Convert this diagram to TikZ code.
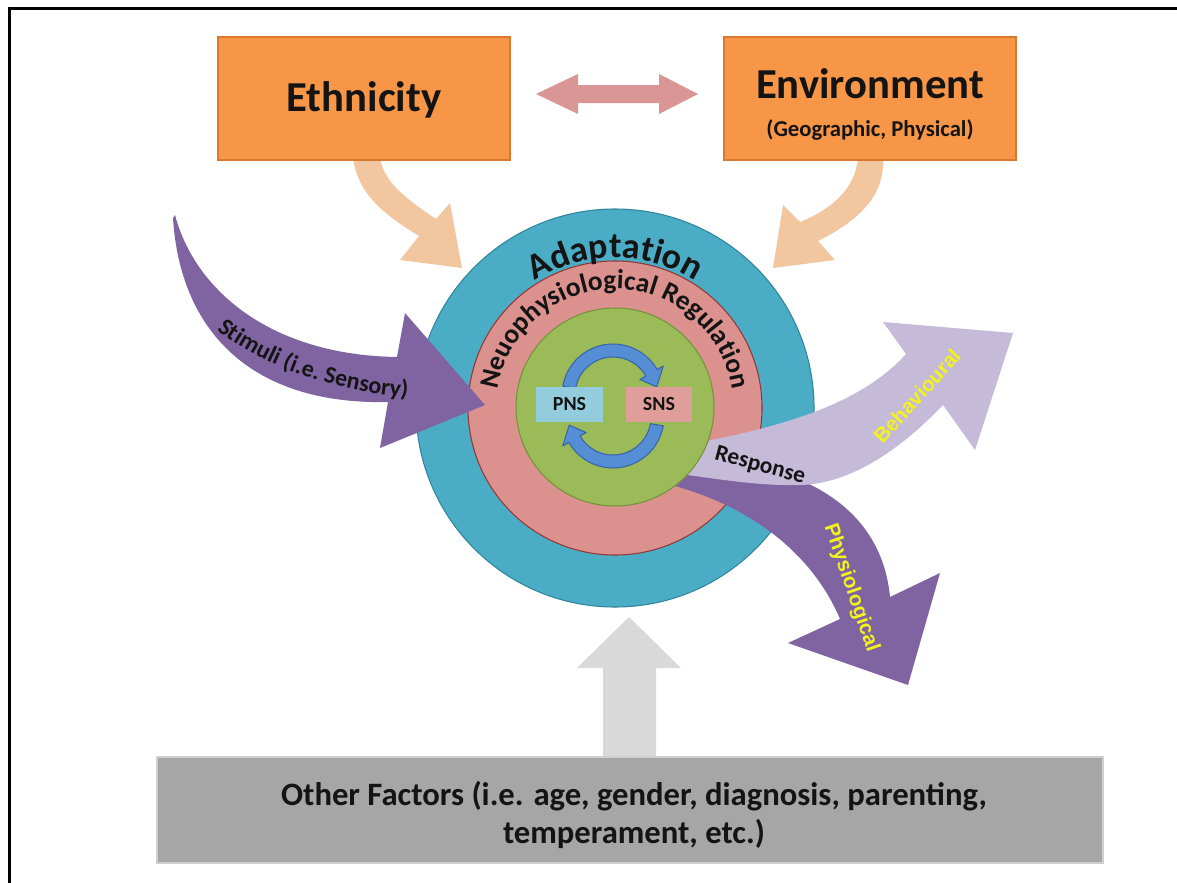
\documentclass[tikz,border=0pt]{standalone}
\usepackage{fontspec}
\setmainfont{Carlito}
\newfontfamily\labelsans{Liberation Sans}
\usetikzlibrary{calc,decorations.text}

\definecolor{boxfill}{HTML}{F79646}
\definecolor{boxedge}{HTML}{D9782F}
\definecolor{linkpink}{HTML}{D99694}
\definecolor{tanarrow}{HTML}{F2C7A0}
\definecolor{tealring}{HTML}{4BACC6}
\definecolor{tealedge}{HTML}{31859C}
\definecolor{pinkring}{HTML}{DB918E}
\definecolor{pinkedge}{HTML}{953735}
\definecolor{greencore}{HTML}{9BBB59}
\definecolor{greenedge}{HTML}{76923C}
\definecolor{pnsfill}{HTML}{93CDDD}
\definecolor{snsfill}{HTML}{E09E9B}
\definecolor{cycfill}{HTML}{558ED5}
\definecolor{cycedge}{HTML}{3A64A8}
\definecolor{stimpurple}{HTML}{8064A2}
\definecolor{lightpurple}{HTML}{C5BAD8}
\definecolor{softgray}{HTML}{D9D9D9}
\definecolor{factorgray}{HTML}{A6A6A6}
\definecolor{factoredge}{HTML}{CFCFCF}
\definecolor{labelyellow}{HTML}{F2F21C}
\definecolor{ink}{HTML}{141414}

\newcommand\fsz[1]{\fontsize{#1}{#1}\selectfont\bfseries}
\newcommand\adaptfont{\fontsize{27}{27}\selectfont\bfseries\color{ink}}
\newcommand\neurofont{\fontsize{20.5}{20.5}\selectfont\bfseries\color{ink}}
\newcommand\stimfont{\fontsize{18}{18}\selectfont\bfseries\color{ink}}

\tikzset{
  factorbox/.style={rectangle, fill=boxfill, draw=boxedge, line width=1pt, inner sep=0pt},
  plain/.style={inner sep=0pt, text=ink},
  ring/.style={circle, inner sep=0pt, line width=0.8pt},
  nsbox/.style={rectangle, inner sep=0pt, minimum height=26.25pt, text=ink, font=\fsz{15}},
  cyclearrow/.style={fill=cycfill, draw=cycedge, line width=0.8pt, line join=round},
  yellowlabel/.style={inner sep=0pt, text=labelyellow, font=\labelsans\bfseries\fontsize{15.5}{15.5}\selectfont},
}

\begin{document}
\begin{tikzpicture}[x=0.75pt, y=-0.75pt]
\useasboundingbox (0,0) rectangle (1177,882);
\fill[white] (-20,-20) rectangle (1200,900);

% frame lines
\draw[line width=2.25pt, black] (9.5,900) -- (9.5,8.5) -- (1200,8.5);

% curved feeds from the two top boxes
\fill[tanarrow] (380,158) .. controls (384,180) and (400,195) .. (436,219)
  -- (450,203) -- (462,268) -- (400,260) -- (419,236)
  .. controls (385,215) and (358,195) .. (353,158) -- cycle;
\fill[tanarrow] (858,158) .. controls (855,190) and (830,210) .. (800,222)
  -- (783,205) -- (773,268) -- (835,260) -- (818,241)
  .. controls (860,220) and (885,195) .. (883,158) -- cycle;

% top boxes
\node[factorbox, minimum width=219pt, minimum height=92.25pt] (ethbox) at (364,98.5) {};
\node[factorbox, minimum width=219pt, minimum height=92.25pt] (envbox) at (870,98.5) {};
\node[plain, font=\fsz{32}] (ethtext) at (364,100) {Ethnicity};
\node[plain, font=\fsz{32}] (envtext) at (870,84) {Environment};
\node[plain, font=\fsz{17}] (envsub) at (870,130) {(Geographic, Physical)};

% two-way link between the boxes
\fill[linkpink] (536,94) -- (578,74) -- (578,85) -- (659,85) -- (659,74) -- (698,94)
  -- (659,114) -- (659,103) -- (578,103) -- (578,114) -- cycle;

% concentric rings
\node[ring, fill=tealring, draw=tealedge, minimum size=298.5pt] (adaptring) at (615,408) {};
\node[ring, fill=pinkring, draw=pinkedge, minimum size=220.5pt] (neuroring) at (615,408) {};

% stimuli input
\fill[stimpurple] (175,215) .. controls (195,290) and (270,355) .. (397,357)
  -- (405,313) -- (485,405) -- (380,448) -- (388,402)
  .. controls (250,405) and (180,330) .. (173,218) -- cycle;

% physiological and behavioural responses
\fill[stimpurple] (675,462) .. controls (770,455) and (880,490) .. (890,597)
  -- (940,573) -- (908,685) -- (788,643) -- (840,619)
  .. controls (815,560) and (760,510) .. (675,486) -- cycle;
\fill[lightpurple] (680,446) .. controls (780,428) and (860,405) .. (906,354)
  -- (883,322) -- (1013,333) -- (975,450) -- (943,405)
  .. controls (900,450) and (850,484) .. (800,485)
  .. controls (760,486) and (725,480) .. (680,474) -- cycle;

% inner core
\node[ring, fill=greencore, draw=greenedge, minimum size=148.5pt] (core) at (615,407) {};

% ring captions
\path[decorate, decoration={text along path, text align=center,
  text={|\adaptfont|Adaptation}}]
  ($(adaptring.center)+(200:150)$) arc[start angle=200, end angle=340, radius=150];
\path[decorate, decoration={text along path, text align=center,
  text={|\neurofont|Neuophysiological Regulation}}]
  ($(neuroring.center)+(150:119)$) arc[start angle=150, end angle=390, radius=119];

% stimuli caption
\path[decorate, decoration={text along path, text align=center,
  text={|\stimfont|Stimuli (i.e. Sensory)}}]
  (210,325) .. controls (262,367) and (330,391) .. (416,398);

% PNS / SNS cycle
\coordinate (ctop) at (613,395);
\coordinate (cbot) at (613,417);
\filldraw[cyclearrow] ($(ctop)+(190:51)$) arc[start angle=190, end angle=330, radius=51]
  -- ($(ctop)+(330:58)$) -- ($(ctop)+(349.5:44.5)$) -- ($(ctop)+(330:31)$)
  -- ($(ctop)+(330:38)$) arc[start angle=330, end angle=190, radius=38] -- cycle;
\filldraw[cyclearrow] ($(cbot)+(10:51)$) arc[start angle=10, end angle=150, radius=51]
  -- ($(cbot)+(150:58)$) -- ($(cbot)+(169.5:44.5)$) -- ($(cbot)+(150:31)$)
  -- ($(cbot)+(150:38)$) arc[start angle=150, end angle=10, radius=38] -- cycle;
\node[nsbox, fill=pnsfill, minimum width=50.25pt] (pns) at (569.5,404.5) {PNS};
\node[nsbox, fill=snsfill, minimum width=49.5pt] (sns) at (659,404.5) {SNS};

% response captions
\node[plain, font=\fsz{17.5}, rotate=-15] (resp) at (760,466) {Response};
\node[yellowlabel, rotate=48] (behav) at (917,396) {Behavioural};
\node[yellowlabel, rotate=-71] (physio) at (851,588) {Physiological};

% other factors
\fill[softgray] (603,759) -- (603,668) -- (577,668) -- (629,617) -- (681,668)
  -- (656,668) -- (656,759) -- cycle;
\node[rectangle, fill=factorgray, draw=factoredge, line width=1.5pt, inner sep=0pt,
  minimum width=709.5pt, minimum height=79.5pt] (others) at (630,810) {};
\node[plain, align=center, font=\fontsize{24.5}{28.5}\selectfont\bfseries] (otherstext) at (634,815)
  {Other Factors (i.e. age, gender, diagnosis, parenting,\\temperament, etc.)};
\end{tikzpicture}
\end{document}
